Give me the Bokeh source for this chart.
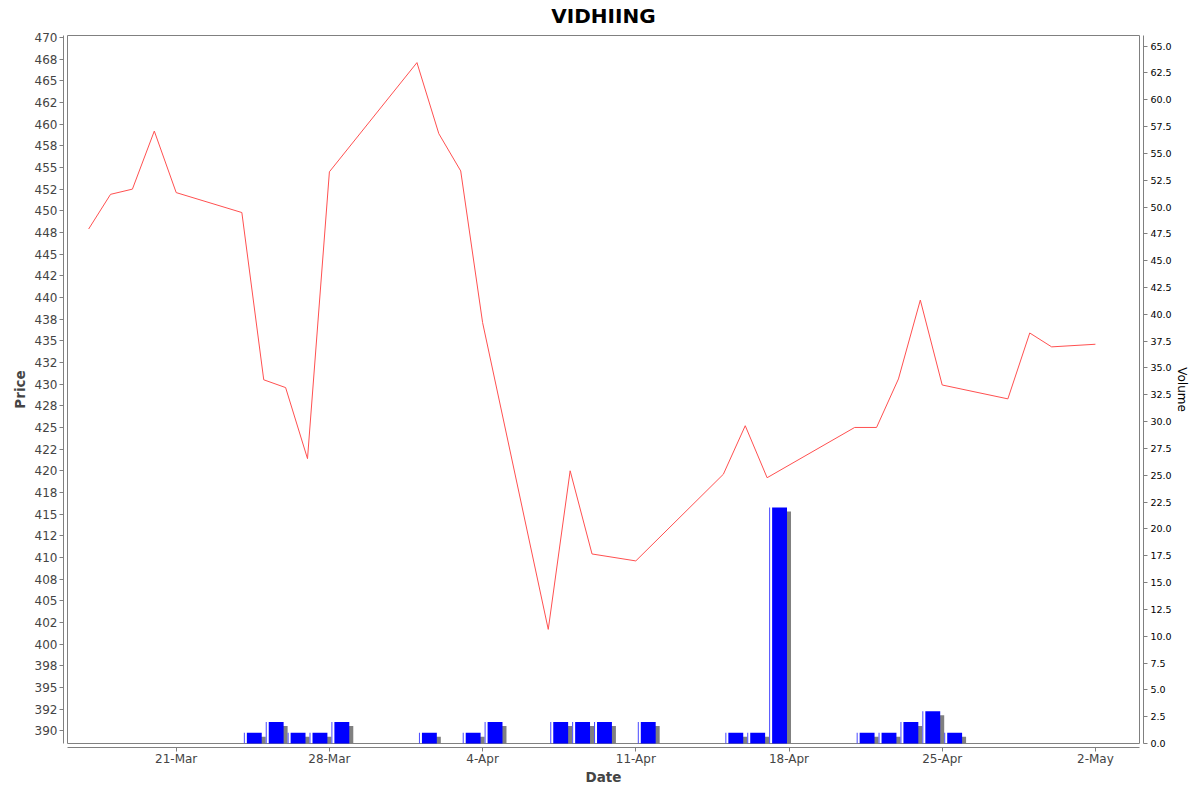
from datetime import datetime, timedelta

from bokeh.embed import file_html
from bokeh.models import FixedTicker, LinearAxis, NumeralTickFormatter, Range1d
from bokeh.plotting import figure
from bokeh.resources import INLINE

# daily data
dates = ["2025-03-17", "2025-03-18", "2025-03-19", "2025-03-20", "2025-03-21",
         "2025-03-24", "2025-03-25", "2025-03-26", "2025-03-27", "2025-03-28",
         "2025-04-01", "2025-04-02", "2025-04-03", "2025-04-04", "2025-04-07",
         "2025-04-08", "2025-04-09", "2025-04-11", "2025-04-15", "2025-04-16",
         "2025-04-17", "2025-04-21", "2025-04-22", "2025-04-23", "2025-04-24",
         "2025-04-25", "2025-04-28", "2025-04-29", "2025-04-30", "2025-05-02"]
price = [447.9, 451.9, 452.5, 459.2, 452.1, 449.8, 430.5, 429.6, 421.4, 454.5,
         467.1, 458.9, 454.6, 437.1, 401.7, 420.0, 410.4, 409.6, 419.6, 425.2,
         419.2, 425.0, 425.0, 430.6, 439.7, 429.9, 428.3, 435.9, 434.3, 434.6]
volume = [0, 0, 0, 0, 0, 1, 2, 1, 1, 2,
          1, 0, 1, 2, 2, 2, 2, 2, 1, 1,
          22, 1, 1, 2, 3, 1, 0, 0, 0, 0]

x_tick_dates = ["2025-03-21", "2025-03-28", "2025-04-04", "2025-04-11",
                "2025-04-18", "2025-04-25", "2025-05-02"]
x_tick_labels = ["21-Mar", "28-Mar", "4-Apr", "11-Apr", "18-Apr", "25-Apr", "2-May"]

title = "VIDHIING"

# layout (pixels)
W, H = 1200, 792
LEFT, RIGHT, TOP, BOTTOM = 63, 57, 31, 45
FW, FH = W - LEFT - RIGHT, H - TOP - BOTTOM
GAP = 4  # axes sit 4px outside the plot area

days = [datetime.strptime(d, "%Y-%m-%d") for d in dates]
ref = datetime(2025, 3, 21)
x0 = ref - timedelta(days=5.149)
x1 = ref + timedelta(days=44.197)
px_x = (x1 - x0) / FW

p_lo, p_hi = 388.07, 470.69
px_p = (p_hi - p_lo) / FH
v_lo, v_hi = -0.373, 66.36
px_v = (v_hi - v_lo) / FH


def ms(d):
    return (d - datetime(1970, 1, 1)).total_seconds() * 1000.0


p = figure(
    width=W, height=H,
    title=title,
    x_axis_type="datetime",
    x_range=Range1d(x0, x1), y_range=Range1d(p_lo, p_hi),
    min_border_left=LEFT, min_border_right=RIGHT,
    min_border_top=TOP, min_border_bottom=BOTTOM,
    output_backend="svg", toolbar_location=None,
)
p.extra_y_ranges = {"vol": Range1d(v_lo, v_hi)}
p.outline_line_color = None
p.xgrid.visible = False
p.ygrid.visible = False
p.background_fill_color = "white"
p.border_fill_color = "white"

p.title.align = "center"
p.title.vertical_align = "top"
p.title.text_font = "DejaVu Sans"
p.title.text_font_size = "20px"
p.title.text_font_style = "bold"
p.title.text_color = "black"
p.title.standoff = 4

# inner plot outline
p.quad(left=[x0 + GAP * px_x], right=[x1 - GAP * px_x],
       bottom=[p_lo + GAP * px_p], top=[p_hi - GAP * px_p],
       fill_color=None, line_color="#808080", line_width=1)

# volume bars: shadow, light edge, body
vd = [d for d, v in zip(days, volume) if v > 0]
vv = [v for v in volume if v > 0]
start = [d + 2 * px_x for d in vd]
end = [d + timedelta(days=1) - 2 * px_x for d in vd]
p.quad(left=[s + 4 * px_x for s in start], right=[e + 4 * px_x for e in end],
       bottom=0, top=[v - 4 * px_v for v in vv], y_range_name="vol",
       fill_color="#808080", line_color=None)
p.quad(left=start, right=[s + 1 * px_x for s in start], bottom=0, top=vv,
       y_range_name="vol", fill_color="#4848ff", line_color=None)
p.quad(left=[s + 3 * px_x for s in start], right=end, bottom=0, top=vv,
       y_range_name="vol", fill_color="#0000ff", line_color=None)

# price line
p.line(days, price, line_color="#ff5050", line_width=1)

# left price axis
ya = p.yaxis[0]
price_ticks = [390 + 2.5 * i for i in range(33)]
ya.ticker = FixedTicker(ticks=price_ticks)
ya.major_label_overrides = {t: str(round(t)) for t in price_ticks}
ya.bounds = (p_lo + GAP * px_p, p_hi - GAP * px_p)
ya.axis_label = "Price"
ya.axis_label_text_font = "DejaVu Sans"
ya.axis_label_text_font_size = "13.5px"
ya.axis_label_text_font_style = "bold"
ya.axis_label_text_color = "#444444"
ya.axis_label_standoff = 4
ya.major_label_text_font = "DejaVu Sans"
ya.major_label_text_font_size = "12px"
ya.major_label_text_color = "#444444"
ya.major_label_standoff = 2
ya.axis_line_color = "#808080"
ya.major_tick_line_color = "#808080"
ya.major_tick_in = 0
ya.major_tick_out = 4
ya.minor_tick_line_color = None

# right volume axis
va = LinearAxis(y_range_name="vol")
va.ticker = FixedTicker(ticks=[2.5 * i for i in range(27)])
va.formatter = NumeralTickFormatter(format="0.0")
va.bounds = (0, v_hi - GAP * px_v)
va.axis_label = "Volume"
va.axis_label_text_font = "DejaVu Sans"
va.axis_label_text_font_size = "12px"
va.axis_label_text_font_style = "normal"
va.axis_label_text_color = "black"
va.axis_label_standoff = 0
va.major_label_text_font = "DejaVu Sans"
va.major_label_text_font_size = "9.5px"
va.major_label_text_color = "black"
va.major_label_standoff = 3
va.axis_line_color = "#808080"
va.major_tick_line_color = "#808080"
va.major_tick_in = 0
va.major_tick_out = 4
va.minor_tick_line_color = None
p.add_layout(va, "right")

# date axis
xa = p.xaxis[0]
xt = [ms(datetime.strptime(d, "%Y-%m-%d")) for d in x_tick_dates]
xa.ticker = FixedTicker(ticks=xt)
xa.major_label_overrides = dict(zip(xt, x_tick_labels))
xa.bounds = (x0 + GAP * px_x, x1 - GAP * px_x)
xa.axis_label = "Date"
xa.axis_label_text_font = "DejaVu Sans"
xa.axis_label_text_font_size = "13.5px"
xa.axis_label_text_font_style = "bold"
xa.axis_label_text_color = "#444444"
xa.axis_label_standoff = 0
xa.major_label_text_font = "DejaVu Sans"
xa.major_label_text_font_size = "12px"
xa.major_label_text_color = "#444444"
xa.major_label_standoff = 0
xa.axis_line_color = "#808080"
xa.major_tick_line_color = "#808080"
xa.major_tick_in = 0
xa.major_tick_out = 4
xa.minor_tick_line_color = None

open("out.html", "w").write(file_html(p, INLINE))
